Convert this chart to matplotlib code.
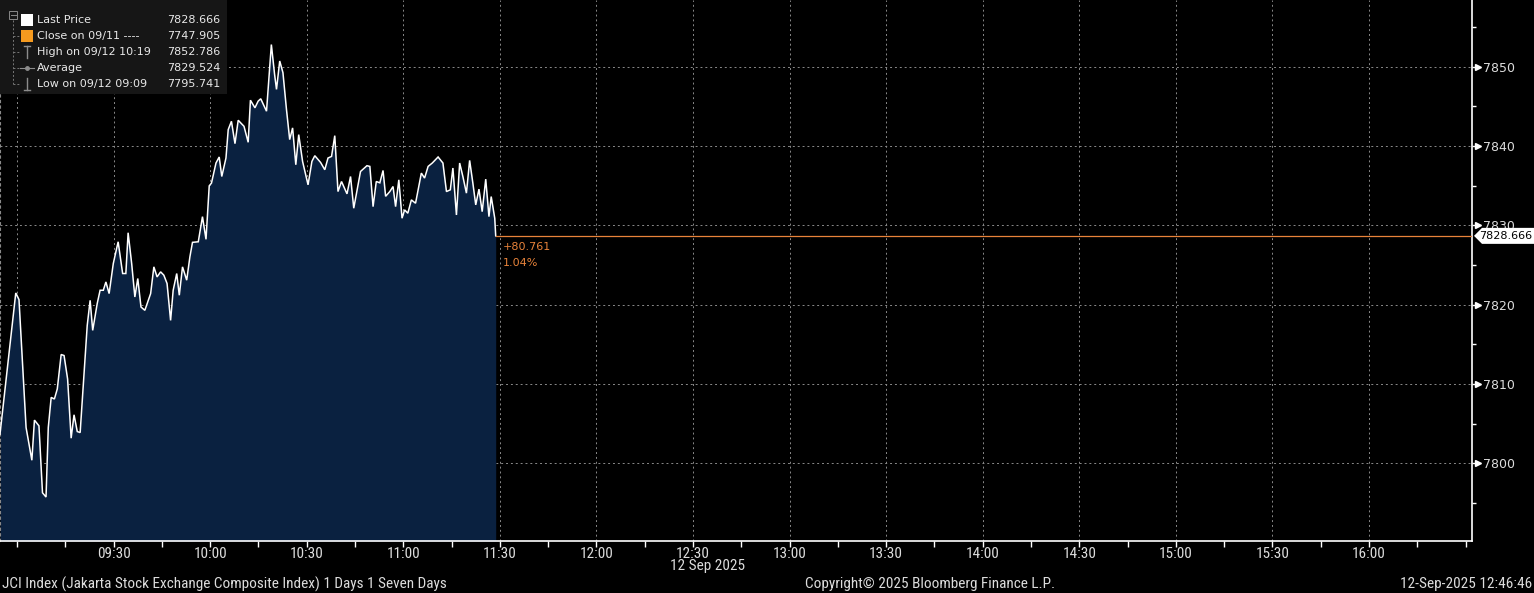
import matplotlib
matplotlib.use("Agg")
import matplotlib.pyplot as plt
import matplotlib.transforms as mtransforms
from matplotlib.patches import Rectangle, Polygon
from matplotlib.lines import Line2D
from matplotlib.ticker import FixedLocator, MultipleLocator
from matplotlib import font_manager

# ---------------- data (minutes after 09:00, 12 Sep 2025) ----------------
minutes = [-5.3, -0.4, 0.6, 2.8, 4.6, 5.4, 6.8, 7.9, 9.0, 9.7, 10.6, 11.6, 12.5, 13.7, 14.6,
           15.7, 16.8, 17.7, 18.7, 19.6, 21.8, 22.7, 23.5, 24.9, 25.8, 26.8, 27.6, 28.6, 29.9,
           31.4, 32.8, 33.8, 34.5, 35.6, 36.6, 37.5, 38.5, 39.7, 41.5, 42.5, 43.5, 44.6, 45.6,
           46.6, 47.7, 48.5, 49.6, 50.4, 51.4, 52.7, 53.7, 54.5, 56.3, 57.6, 58.7, 59.7, 60.4,
           61.8, 62.8, 63.6, 64.9, 65.6, 66.6, 67.7, 68.7, 70.5, 71.8, 72.5, 73.9, 74.9, 75.7,
           77.5, 79.0, 80.0, 80.6, 81.6, 82.6, 83.7, 84.7, 85.6, 86.6, 87.5, 88.7, 90.4, 91.6,
           92.5, 94.3, 95.6, 96.6, 97.7, 98.7, 99.7, 100.8, 102.5, 103.6, 104.6, 106.7, 108.7,
           109.6, 110.6, 111.6, 112.7, 113.7, 114.5, 115.8, 116.8, 117.6, 118.6, 119.6, 120.4,
           121.4, 122.5, 123.8, 125.6, 126.6, 127.7, 129.0, 130.8, 132.3, 133.4, 134.6, 135.4,
           136.5, 137.5, 138.5, 139.6, 140.6, 141.6, 142.5, 143.5, 144.5, 145.6, 146.6, 147.3,
           148.4, 148.7]
prices = [7803.67, 7821.47, 7820.63, 7804.51, 7800.38, 7805.44, 7804.72, 7796.28, 7795.741,
          7804.51, 7808.30, 7808.10, 7809.37, 7813.71, 7813.58, 7810.63, 7803.16, 7806.11,
          7804.00, 7803.87, 7817.38, 7820.54, 7816.75, 7820.13, 7821.81, 7821.81, 7822.86,
          7821.39, 7825.19, 7827.92, 7823.92, 7823.92, 7829.06, 7825.19, 7820.96, 7823.29,
          7819.70, 7819.28, 7821.39, 7824.76, 7823.49, 7824.13, 7823.71, 7822.66, 7818.01,
          7821.81, 7823.92, 7821.18, 7824.76, 7823.08, 7826.03, 7827.85, 7827.92, 7831.09,
          7828.23, 7834.97, 7835.32, 7837.85, 7838.61, 7836.15, 7838.48, 7842.06, 7843.11,
          7840.29, 7843.24, 7842.48, 7840.46, 7845.77, 7844.81, 7845.65, 7845.95, 7844.38,
          7852.786, 7849.03, 7847.13, 7850.71, 7849.24, 7844.59, 7840.80, 7842.28, 7837.63,
          7841.43, 7838.05, 7835.10, 7838.05, 7838.77, 7837.92, 7837.00, 7838.48, 7838.68,
          7841.30, 7834.25, 7835.52, 7833.96, 7836.15, 7832.15, 7836.78, 7837.51, 7837.42,
          7832.35, 7835.52, 7835.35, 7836.91, 7833.65, 7834.25, 7834.89, 7832.35, 7835.73,
          7830.89, 7831.94, 7831.52, 7833.20, 7832.78, 7836.58, 7835.95, 7837.42, 7837.85,
          7838.61, 7837.85, 7834.25, 7834.47, 7837.22, 7831.30, 7837.85, 7836.15, 7834.05,
          7838.18, 7835.32, 7832.57, 7834.56, 7831.72, 7835.82, 7831.09, 7833.62, 7830.89,
          7828.666]

last_price = 7828.666
prev_close = 7747.905
high_price = 7852.786
avg_price = 7829.524
low_price = 7795.741

legend_labels = ["Last Price", "Close on 09/11 ----", "High on 09/12 10:19",
                 "Average", "Low on 09/12 09:09"]
legend_values = [last_price, prev_close, high_price, avg_price, low_price]

x_tick_minutes = [30, 60, 90, 120, 150, 180, 210, 240, 270, 300, 330, 360, 390, 420]
x_tick_labels = ["09:30", "10:00", "10:30", "11:00", "11:30", "12:00", "12:30", "13:00",
                 "13:30", "14:00", "14:30", "15:00", "15:30", "16:00"]
y_ticks = [7800, 7810, 7820, 7830, 7840, 7850]

date_label = "12 Sep 2025"
footer_left = "JCI Index (Jakarta Stock Exchange Composite Index) 1 Days 1 Seven Days"
footer_mid = "Copyright\u00a9 2025 Bloomberg Finance L.P."
footer_right = "12-Sep-2025 12:46:46"

# ---------------- style ----------------
W, H = 1534, 593
BG = "#000000"
FILL = "#0a2140"
GRID = "#8a8a8a"
TXT = "#dcdcdc"
ORANGE = "#e8833a"

names = {f.name for f in font_manager.fontManager.ttflist}
NARROW_FP = None
for cand in ["Liberation Sans Narrow", "Roboto Condensed", "Open Sans Condensed"]:
    if cand in names:
        NARROW_FP = font_manager.FontProperties(family=cand, size=11)
        break
if NARROW_FP is None:
    NARROW_FP = font_manager.FontProperties(family="DejaVu Sans", stretch="condensed", size=10)
plt.rcParams["font.family"] = ["DejaVu Sans"]

fig = plt.figure(figsize=(W / 100, H / 100), dpi=100, facecolor=BG)


def fx(x):
    return x / W


def fy(y):
    return 1 - y / H


ax = fig.add_axes([0, fy(541), fx(1472), 541 / H])
ax.set_facecolor(BG)
ax.set_xlim(-5.3, 452)
ax.set_ylim(7790.2, 7858.4)

ybase = ax.get_ylim()[0]
ax.fill_between(minutes, prices, ybase, color=FILL, lw=0, zorder=2)
ax.plot(minutes, prices, color="white", lw=1.1, zorder=3, solid_joinstyle="miter")

# last-price line
ax.plot([minutes[-1], ax.get_xlim()[1]], [last_price, last_price], color=ORANGE, lw=0.9, zorder=3)

# grid
for yt in y_ticks:
    ax.axhline(yt, color=GRID, lw=0.7, ls=(0, (2, 3)), zorder=1)
for xt in [0] + x_tick_minutes:
    ax.axvline(xt, color=GRID, lw=0.7, ls=(0, (2, 3)), zorder=1)

# spines
ax.spines["top"].set_visible(False)
ax.spines["left"].set_color(GRID)
ax.spines["left"].set_linestyle((0, (2, 3)))
ax.spines["left"].set_linewidth(0.8)
ax.spines["right"].set_color("white")
ax.spines["bottom"].set_color("white")
ax.spines["right"].set_linewidth(1.2)
ax.spines["bottom"].set_linewidth(1.2)

# x ticks
ax.xaxis.set_major_locator(FixedLocator([0] + x_tick_minutes))
ax.set_xticklabels([""] + x_tick_labels)
ax.xaxis.set_minor_locator(MultipleLocator(15))
ax.tick_params(axis="x", which="both", colors="white", length=4, width=1, pad=0.5,
               labelcolor=TXT)
for lab in ax.get_xticklabels():
    lab.set_fontproperties(NARROW_FP)

# y ticks on right
ax.yaxis.tick_right()
ax.yaxis.set_major_locator(FixedLocator(y_ticks))
ax.yaxis.set_minor_locator(MultipleLocator(5))
ax.set_yticklabels([str(v) for v in y_ticks])
ax.tick_params(axis="y", which="both", colors="white", length=4, width=1, pad=4,
               labelsize=9, labelcolor=TXT)
ax.tick_params(axis="y", which="minor", length=3)
ax.tick_params(axis="y", which="both", left=False)
trans = mtransforms.blended_transform_factory(ax.transAxes, ax.transData)
ax.plot([1.004] * len(y_ticks), y_ticks, ls="none", marker=">", ms=4, color="white",
        transform=trans, clip_on=False, zorder=5)

# change annotation
chg = last_price - prev_close
pct = chg / prev_close * 100
ax.annotate(f"+{chg:.3f}", (minutes[-1], last_price), xytext=(5, -8),
            textcoords="offset points", color=ORANGE, fontsize=8, va="center", ha="left")
ax.annotate(f"{pct:.2f}%", (minutes[-1], last_price), xytext=(5, -19.5),
            textcoords="offset points", color=ORANGE, fontsize=8, va="center", ha="left")

# price tag on right axis
fig.canvas.draw()
ypix = ax.transData.transform((0, last_price))[1]
ty = H - ypix
tag = Polygon([(fx(1474), fy(ty)), (fx(1482), fy(ty - 8)), (fx(1534), fy(ty - 8)),
               (fx(1534), fy(ty + 8)), (fx(1482), fy(ty + 8))], closed=True,
              transform=fig.transFigure, facecolor="white", edgecolor="none", zorder=10)
fig.patches.append(tag)
fig.text(fx(1479), fy(ty), f"{last_price:.3f}", color="black", fontsize=8,
         va="center", ha="left", zorder=11)

# legend box
fig.patches.append(Rectangle((fx(0), fy(94)), fx(227), 94 / H, transform=fig.transFigure,
                             facecolor="#161616", edgecolor="none", zorder=8))
rows = [20, 36, 52, 68, 84]
fig.lines.append(Line2D([fx(13), fx(13)], [fy(20), fy(84)], transform=fig.transFigure,
                        color="#777777", lw=0.7, ls=(0, (2, 2)), zorder=9))
for r in rows[1:]:
    fig.lines.append(Line2D([fx(13), fx(20)], [fy(r), fy(r)], transform=fig.transFigure,
                            color="#777777", lw=0.7, ls=(0, (2, 2)), zorder=9))
fig.patches.append(Rectangle((fx(9), fy(19)), fx(8), 8 / H, transform=fig.transFigure,
                             facecolor="#161616", edgecolor="#888888", lw=0.7, zorder=9))
fig.lines.append(Line2D([fx(10.5), fx(15.5)], [fy(15), fy(15)], transform=fig.transFigure,
                        color="#888888", lw=0.7, zorder=10))
fig.patches.append(Rectangle((fx(21), fy(26)), fx(12), 12 / H, transform=fig.transFigure,
                             facecolor="white", edgecolor="none", zorder=9))
fig.patches.append(Rectangle((fx(21), fy(42)), fx(12), 12 / H, transform=fig.transFigure,
                             facecolor="#f59a1f", edgecolor="none", zorder=9))
ic = "#8c8c8c"
fig.lines.append(Line2D([fx(27), fx(27)], [fy(46), fy(58)], transform=fig.transFigure,
                        color=ic, lw=1, zorder=9))
fig.lines.append(Line2D([fx(24), fx(30)], [fy(46), fy(46)], transform=fig.transFigure,
                        color=ic, lw=1, zorder=9))
fig.lines.append(Line2D([fx(20), fx(34)], [fy(68), fy(68)], transform=fig.transFigure,
                        color=ic, lw=0.8, zorder=9))
fig.lines.append(Line2D([fx(27)], [fy(68)], transform=fig.transFigure,
                        color=ic, marker="o", ms=2.5, ls="none", zorder=9))
fig.lines.append(Line2D([fx(27), fx(27)], [fy(78), fy(90)], transform=fig.transFigure,
                        color=ic, lw=1, zorder=9))
fig.lines.append(Line2D([fx(24), fx(30)], [fy(90), fy(90)], transform=fig.transFigure,
                        color=ic, lw=1, zorder=9))
for r, lab, val in zip(rows, legend_labels, legend_values):
    fig.text(fx(37), fy(r), lab, color="#e8e8e8", fontsize=8, va="center", ha="left", zorder=10)
    fig.text(fx(220), fy(r), f"{val:.3f}", color="#e8e8e8", fontsize=8, va="center",
             ha="right", zorder=10)

# bottom texts
fig.text(fx(708), fy(566), date_label, color=TXT, fontproperties=NARROW_FP,
         va="center", ha="center")
fig.text(fx(2), fy(584), footer_left, color=TXT, fontproperties=NARROW_FP,
         va="center", ha="left")
fig.text(fx(805), fy(584), footer_mid, color=TXT, fontproperties=NARROW_FP,
         va="center", ha="left")
fig.text(fx(1532), fy(584), footer_right, color=TXT, fontproperties=NARROW_FP,
         va="center", ha="right")

fig.savefig("out.png", dpi=100, facecolor=BG)
